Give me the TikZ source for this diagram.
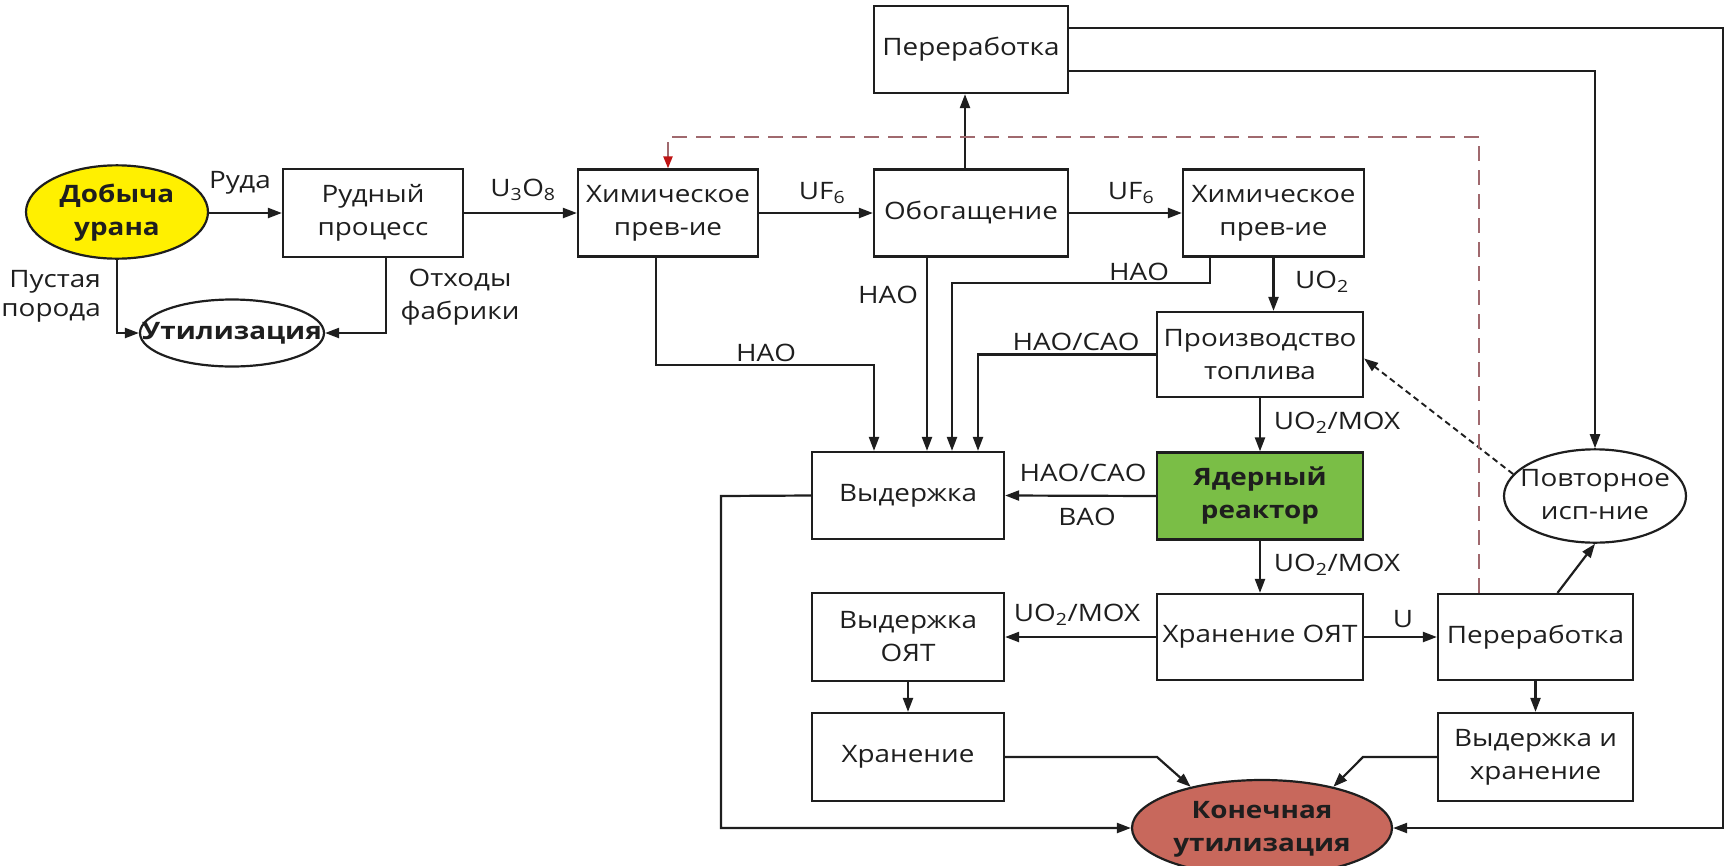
\documentclass[tikz,border=0pt]{standalone}
\usepackage{fontspec}
\setmainfont{Open Sans}[FakeStretch=1.16]
\usetikzlibrary{arrows.meta,shapes.geometric}
\definecolor{ink}{RGB}{30,30,30}
\definecolor{mineyellow}{RGB}{255,240,0}
\definecolor{reactorgreen}{RGB}{122,190,70}
\definecolor{finalred}{RGB}{200,104,92}
\definecolor{loopdash}{RGB}{160,105,110}
\definecolor{tipred}{RGB}{190,20,20}
% text centred in an oval without widening it
\newcommand{\ovaltxt}[1]{\makebox[0pt]{\begin{tabular}{@{}c@{}}#1\end{tabular}}}

\begin{document}
\begin{tikzpicture}[x=1pt,y=-1pt,
  every node/.style={font=\fontsize{24}{33}\selectfont, text=ink},
  box/.style={draw=ink, line width=2.2pt, rectangle, inner sep=0pt, align=center},
  oval/.style={draw=ink, line width=2.2pt, ellipse, inner sep=0pt},
  lbl/.style={inner sep=0pt, align=center},
  arr/.style={draw=ink, line width=2.2pt, -{Triangle[length=14pt,width=10pt]}},
  loopline/.style={draw=loopdash, line width=2.2pt, dash pattern=on 15pt off 9pt,
    -{Triangle[length=12pt,width=9pt,color=tipred]}},
  backline/.style={draw=ink, line width=1.9pt, dash pattern=on 6pt off 4pt,
    -{Triangle[length=14pt,width=10pt]}}
]
\useasboundingbox (0,0) rectangle (1729,865);

% ---- nodes ----
\node[oval, fill=mineyellow, minimum width=182pt, minimum height=80pt,
      font=\fontsize{24}{33}\selectfont\bfseries] (dob) at (117,212) {\ovaltxt{Добыча\\урана}};
\node[oval, minimum width=184pt, minimum height=67pt,
      font=\fontsize{24}{33}\selectfont\bfseries] (util) at (232,333) {\ovaltxt{Утилизация}};
\node[box, minimum width=180pt, minimum height=88pt] (rud) at (373,213) {Рудный\\процесс};
\node[box, minimum width=180pt, minimum height=87pt] (chem1) at (668,213) {Химическое\\прев-ие};
\node[box, minimum width=194pt, minimum height=87pt] (obog) at (971,213) {Обогащение};
\node[box, minimum width=194pt, minimum height=87pt] (perer1) at (971,49.5) {Переработка};
\node[box, minimum width=181pt, minimum height=87pt] (chem2) at (1273.5,213) {Химическое\\прев-ие};
\node[box, minimum width=206pt, minimum height=85pt] (proizv) at (1260,354.5) {Производство\\топлива};
\node[box, minimum width=192pt, minimum height=87pt] (vyd) at (908,495.5) {Выдержка};
\node[box, fill=reactorgreen, minimum width=206pt, minimum height=87pt,
      font=\fontsize{24}{33}\selectfont\bfseries] (reactor) at (1260,496) {Ядерный\\реактор};
\node[oval, minimum width=182pt, minimum height=84pt] (povt) at (1595,496) {\ovaltxt{Повторное\\исп-ние}};
\node[box, minimum width=192pt, minimum height=88pt] (vydoyat) at (908,637) {Выдержка\\ОЯТ};
\node[box, minimum width=206pt, minimum height=86pt] (hroyat) at (1260,637) {Хранение ОЯТ};
\node[box, minimum width=195pt, minimum height=86pt] (perer2) at (1535.5,637) {Переработка};
\node[box, minimum width=192pt, minimum height=88pt] (hran) at (908,757) {Хранение};
\node[box, minimum width=195pt, minimum height=88pt] (vih) at (1535.5,757) {Выдержка и\\хранение};
\node[oval, fill=finalred, minimum width=260pt, minimum height=96pt,
      font=\fontsize{24}{33}\selectfont\bfseries] (konech) at (1262,828) {\ovaltxt{Конечная\\утилизация}};

% ---- bend points ----
\coordinate (hA) at (656,365);
\coordinate (hB) at (1210,283);
\coordinate (rc) at (1723,28);
\coordinate (lc) at (721,496);
\coordinate (dc) at (1479,137);
\coordinate (hk) at (1157,757);
\coordinate (vk) at (1363,757);

% ---- main chain ----
\draw[arr] (dob.east |- rud.west) -- (rud.west);
\draw[arr] (rud.east) -- (chem1.west);
\draw[arr] (chem1.east) -- (obog.west);
\draw[arr] (obog.east) -- (chem2.west);
\draw[arr] ([xshift=-6pt]obog.north) -- ([xshift=-6pt]perer1.south);
\draw[arr] (dob.south) |- (util.west);
\draw[arr] ([xshift=13pt]rud.south) |- (util.east);

% ---- waste into holding ----
\draw[arr] (chem1.south -| hA) -- (hA) -| ([xshift=-34pt]vyd.north);
\draw[arr] ([xshift=-44pt]obog.south) -- ([xshift=19pt]vyd.north);
\draw[arr] (chem2.south -| hB) -- (hB) -| ([xshift=44pt]vyd.north);
\draw[arr] (proizv.west) -| ([xshift=70pt]vyd.north);

% ---- fuel cycle ----
\draw[arr] (chem2.south) -- (chem2.south |- proizv.north);
\draw[arr] (proizv.south) -- (reactor.north);
\draw[arr] (reactor.west) -- (vyd.east);
\draw[arr] (reactor.south) -- (hroyat.north);
\draw[arr] (hroyat.west) -- (vydoyat.east);
\draw[arr] (hroyat.east) -- (perer2.west);
\draw[arr] (vydoyat.south) -- (hran.north);
\draw[arr] (perer2.south) -- (vih.north);
\draw[arr] ([xshift=22pt]perer2.north) -- (povt.south);
\draw[backline] (povt.165) -- ([yshift=-4pt]proizv.east);

% ---- return and disposal loops ----
\draw[arr] ([yshift=-21.5pt]perer1.east) -| (povt.north);
\draw[arr] ([yshift=21.5pt]perer1.east) -- (rc) |- (konech.east);
\draw[arr] (vyd.west) -- (lc) |- (konech.west);
\draw[arr] (hran.east) -- (hk) -- (konech.150);
\draw[arr] (vih.west) -- (vk) -- (konech.30);
\draw[loopline] (perer2.north -| dc) -- (dc) -| (chem1.north);

% ---- flow labels ----
\node[lbl] (lRuda) at (240,183) {Руда};
\node[lbl] (lU3O8) at (523,190) {U\textsubscript{3}O\textsubscript{8}};
\node[lbl] (lUF1) at (822,193) {UF\textsubscript{6}};
\node[lbl] (lUF2) at (1131,193) {UF\textsubscript{6}};
\node[lbl, anchor=east] (lPust) at (101,282) {Пустая};
\node[lbl, anchor=east] (lPor) at (101,313) {порода};
\node[lbl] (lOtx) at (460,280) {Отходы};
\node[lbl] (lFab) at (460,313) {фабрики};
\node[lbl] (lN1) at (766,353) {НАО};
\node[lbl] (lN2) at (888,295) {НАО};
\node[lbl] (lN3) at (1139,272) {НАО};
\node[lbl] (lUO2) at (1322,282) {UO\textsubscript{2}};
\node[lbl] (lNC1) at (1076,342) {НАО/САО};
\node[lbl] (lMOX1) at (1337,423) {UO\textsubscript{2}/MOX};
\node[lbl] (lNC2) at (1083,473) {НАО/САО};
\node[lbl] (lVAO) at (1087,517) {ВАО};
\node[lbl] (lMOX2) at (1337,565) {UO\textsubscript{2}/MOX};
\node[lbl] (lMOX3) at (1077,615) {UO\textsubscript{2}/MOX};
\node[lbl] (lU) at (1403,619) {U};
\end{tikzpicture}
\end{document}
